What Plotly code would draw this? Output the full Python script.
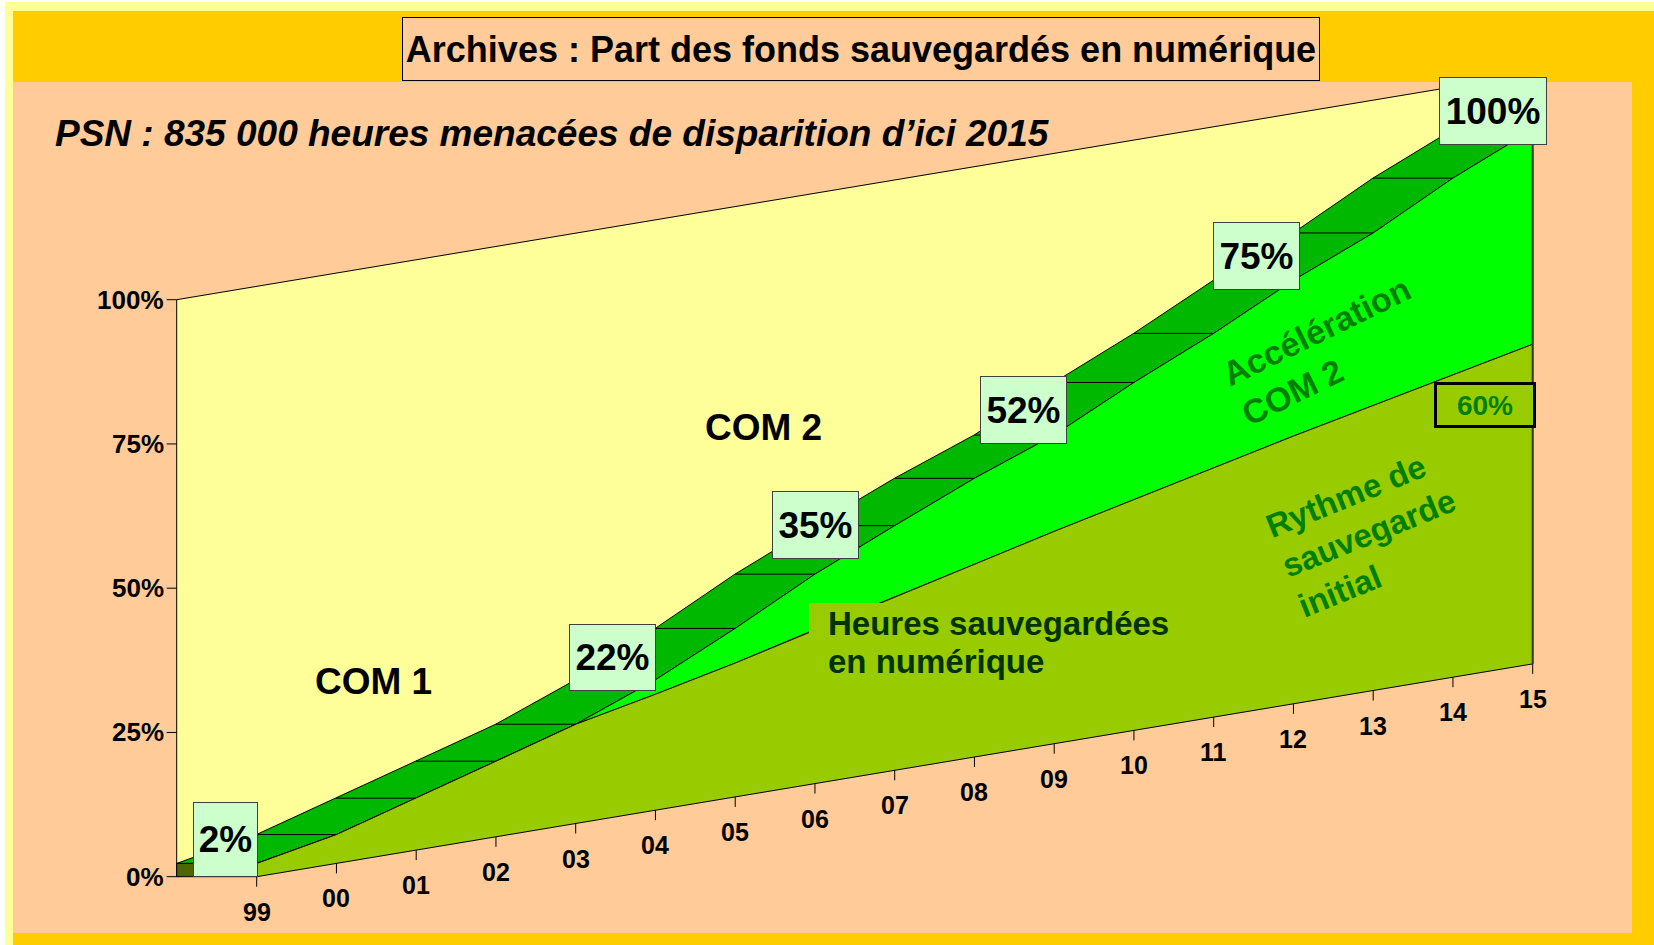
import plotly.graph_objects as go

# ---------------- data ----------------
years = ["99", "00", "01", "02", "03", "04", "05", "06", "07", "08",
         "09", "10", "11", "12", "13", "14", "15"]
# front height of the "initial" series (olive), in %
initial_pct = [2.3, 5.0, 9.0, 13.1, 17.2, 20.1, 23.2, 26.7, 30.0, 33.4,
               36.8, 40.0, 43.2, 46.4, 49.4, 52.4, 55.4]
# front height of the stacked total (initial + acceleration COM 2), in %
total_pct = [2.3, 5.0, 9.0, 13.1, 17.2, 22.6, 29.2, 36.3, 42.4, 48.3,
             53.5, 60.3, 66.5, 73.4, 79.3, 86.5, 92.6]
wall_max = 100
y_ticks = [0, 25, 50, 75, 100]
y_tick_labels = ["0%", "25%", "50%", "75%", "100%"]
milestone_labels = ["2%", "22%", "35%", "52%", "75%", "100%"]

# ---------------- pseudo-3D projection (layout) ----------------
W, H = 1654, 945
X0, Y0 = 256.7, 876.7      # front-left floor corner
DX, DY = 79.75, -13.3      # one category step
VS = 5.77                  # pixels per %
DEPTH = 80                 # depth offset (back = left)


def front(i, v):
    return X0 + DX * i, Y0 + DY * i - VS * v


def back(i, v):
    x, y = front(i, v)
    return x - DEPTH, y


def poly(points):
    xs = [p[0] for p in points] + [points[0][0]]
    ys = [p[1] for p in points] + [points[0][1]]
    return xs, ys


n = len(years)
idx = list(range(n))
fig = go.Figure()


def add_poly(points, fill, line="black", lw=1):
    xs, ys = poly(points)
    fig.add_trace(go.Scatter(x=xs, y=ys, mode="lines", fill="toself",
                             fillcolor=fill, line=dict(color=line, width=lw),
                             hoverinfo="skip", showlegend=False))


def add_segments(segs, color="black", lw=1):
    xs, ys = [], []
    for (a, b) in segs:
        xs += [a[0], b[0], None]
        ys += [a[1], b[1], None]
    fig.add_trace(go.Scatter(x=xs, y=ys, mode="lines",
                             line=dict(color=color, width=lw),
                             hoverinfo="skip", showlegend=False))


# back wall
add_poly([back(i, 0) for i in idx] + [back(i, wall_max) for i in reversed(idx)], "#FFFF99")
# top ribbon of the stack
add_poly([front(i, total_pct[i]) for i in idx] +
         [back(i, total_pct[i]) for i in reversed(idx)], "#00B800")
add_segments([(back(i, total_pct[i]), front(i, total_pct[i])) for i in idx])
# left side face of first category
add_poly([back(0, 0), front(0, 0), front(0, initial_pct[0]), back(0, initial_pct[0])], "#4D6600")
# front face: acceleration COM 2
add_poly([front(i, initial_pct[i]) for i in idx] +
         [front(i, total_pct[i]) for i in reversed(idx)], "#00FF00")
# front face: initial rhythm
add_poly([front(i, 0) for i in idx] +
         [front(i, initial_pct[i]) for i in reversed(idx)], "#99CC00")
# right front edge
add_segments([(front(n - 1, 0), front(n - 1, total_pct[-1]))], color="#3A3A1A", lw=2)
# floor ticks
add_segments([(front(i, 0), (front(i, 0)[0], front(i, 0)[1] + 10)) for i in idx])
# value axis ticks
add_segments([(back(0, v), (back(0, v)[0] - 10, back(0, v)[1])) for v in y_ticks])

FONT = "Liberation Sans, Arial, sans-serif"

# olive label patch behind the "Heures sauvegardées" label, then its two text lines
hx0, hx1, hy0, hy1 = 809, 1213, 603, 675
add_poly([(hx0, hy0), (hx1, hy0), (hx1, hy1), (hx0, hy1)], "#99CC00", line="#99CC00", lw=0)
heures_lines = ["<b>Heures sauvegardées</b>", "<b>en numérique</b>"]
fig.add_trace(go.Scatter(x=[828, 828], y=[627, 665], mode="text", text=heures_lines,
                         textposition="middle right",
                         textfont=dict(family=FONT, size=33, color="#003300"),
                         hoverinfo="skip", showlegend=False))

ann = []
# y tick labels
for v, t in zip(y_ticks, y_tick_labels):
    x, y = back(0, v)
    ann.append(dict(x=x - 11, y=y, text="<b>%s</b>" % t, showarrow=False,
                    xanchor="right", yanchor="middle",
                    font=dict(family=FONT, size=26, color="black")))
# category labels
for i, t in enumerate(years):
    x, y = front(i, 0)
    ann.append(dict(x=x, y=y + 35, text="<b>%s</b>" % t, showarrow=False,
                    xanchor="center", yanchor="middle",
                    font=dict(family=FONT, size=25, color="black")))

# milestone boxes (centre x, centre y, width, height)
box_pos = [(225.5, 839.2, 65, 75), (612.5, 657, 87, 67), (815, 525, 87, 68),
           (1023, 410, 87, 68), (1256, 256, 87, 68), (1493, 111, 108, 68)]
for t, (cx, cy, bw, bh) in zip(milestone_labels, box_pos):
    ann.append(dict(x=cx, y=cy, text="<b>%s</b>" % t, showarrow=False,
                    xanchor="center", yanchor="middle", width=bw - 2, height=bh - 2,
                    bgcolor="#CCFFCC", bordercolor="#404040", borderwidth=1, borderpad=0,
                    font=dict(family=FONT, size=37, color="black")))

# title
ann.append(dict(x=861, y=49, text="<b>Archives : Part des fonds sauvegardés en numérique</b>",
                showarrow=False, xanchor="center", yanchor="middle", width=916, height=62,
                bgcolor="#FFCC99", bordercolor="black", borderwidth=1, borderpad=0,
                font=dict(family=FONT, size=36, color="black")))
# subtitle
ann.append(dict(x=53, y=133, text="<b><i>PSN : 835 000 heures menacées de disparition d’ici 2015</i></b>",
                showarrow=False, xanchor="left", yanchor="middle",
                font=dict(family=FONT, size=37, color="black")))
# COM labels
ann.append(dict(x=373, y=681, text="<b>COM 1</b>", showarrow=False,
                font=dict(family=FONT, size=37, color="black")))
ann.append(dict(x=763, y=427, text="<b>COM 2</b>", showarrow=False,
                font=dict(family=FONT, size=37, color="black")))
# rotated series labels
ann.append(dict(x=1326, y=351, text="<b>Accélération<br>COM 2</b>", showarrow=False,
                textangle=-26, align="left",
                font=dict(family=FONT, size=34, color="#008000")))
ann.append(dict(x=1368, y=533, text="<b>Rythme de<br>sauvegarde<br>initial</b>", showarrow=False,
                textangle=-22, align="left",
                font=dict(family=FONT, size=33, color="#008000")))
# 60% box
ann.append(dict(x=1484.5, y=404.5, text="<b>60%</b>", showarrow=False,
                xanchor="center", yanchor="middle", width=96, height=40,
                bgcolor="#99CC00", bordercolor="black", borderwidth=3, borderpad=0,
                font=dict(family=FONT, size=28, color="#008000")))

shapes = [
    dict(type="rect", x0=5, x1=W, y0=2, y1=H, fillcolor="#FFFF99", line_width=0, layer="below"),
    dict(type="rect", x0=13, x1=W, y0=11, y1=H, fillcolor="#FFCC00", line_width=0, layer="below"),
    dict(type="rect", x0=13, x1=1632, y0=82, y1=933, fillcolor="#FFCC99", line_width=0, layer="below"),
]

fig.update_layout(
    width=W, height=H, margin=dict(l=0, r=0, t=0, b=0),
    paper_bgcolor="white", plot_bgcolor="white",
    xaxis=dict(range=[0, W], visible=False, fixedrange=True),
    yaxis=dict(range=[H, 0], visible=False, fixedrange=True),
    annotations=ann, shapes=shapes, showlegend=False,
)
fig.write_html("out.html", config={"displayModeBar": False},
               post_script="document.body.style.margin='0';document.body.style.overflow='hidden';")
